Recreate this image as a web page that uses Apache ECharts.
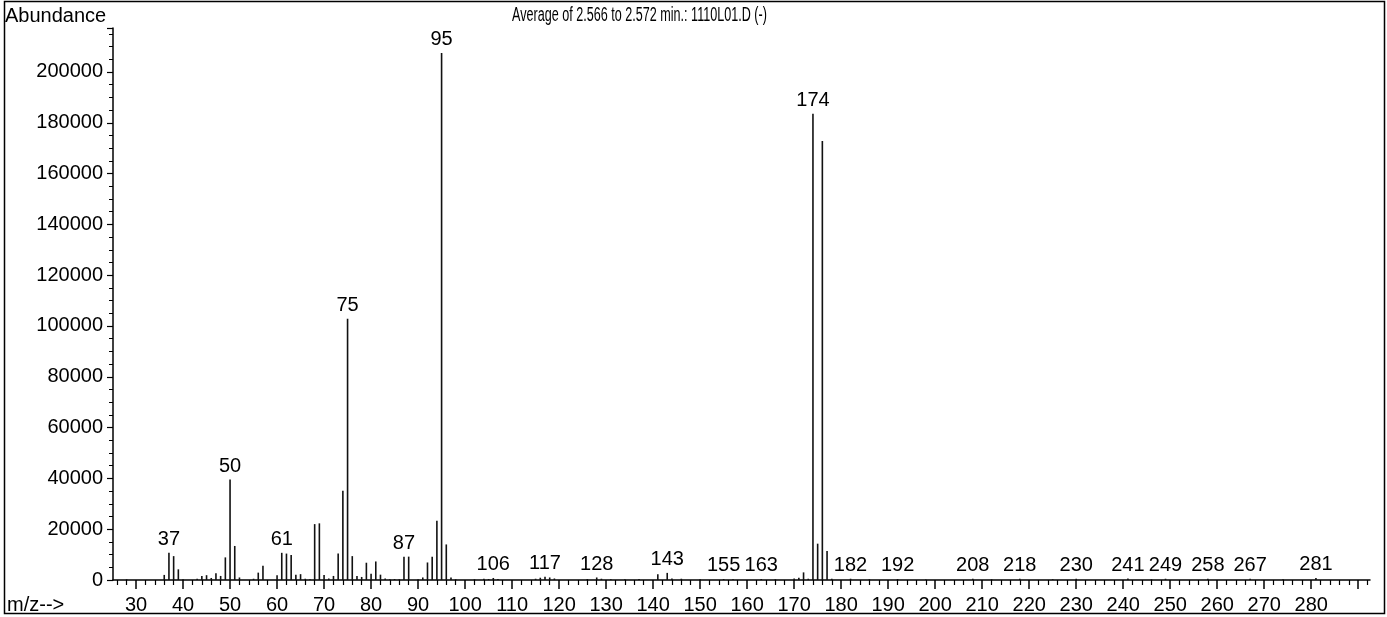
<!DOCTYPE html>
<html>
<head>
<meta charset="utf-8">
<script src="https://cdn.jsdelivr.net/npm/echarts@6/dist/echarts.min.js"></script>
<style>
  html, body { margin: 0; padding: 0; background: #fff; }
  #Chart { width: 1387px; height: 617px; }
</style>
</head>
<body>
<div id="Chart"></div>
<script>
var Chart = echarts.init(document.getElementById('Chart'));

// m/z values and their abundances
var mzValues = [28, 36, 37, 38, 39, 40, 43, 44, 45, 46, 47, 48, 49, 50, 51, 52, 55, 56, 57,
    60, 61, 62, 63, 64, 65, 66, 67, 68, 69, 70, 71, 72, 73, 74, 75, 76, 77, 78, 79, 80,
    81, 82, 83, 84, 85, 86, 87, 88, 90, 91, 92, 93, 94, 95, 96, 97, 98, 102, 104, 105,
    106, 107, 115, 116, 117, 118, 119, 126, 128, 129, 131, 134, 137, 141, 143, 144, 146,
    150, 155, 157, 163, 166, 170, 171, 172, 173, 174, 175, 176, 177, 178, 182, 186, 192,
    198, 208, 212, 218, 225, 230, 241, 246, 249, 258, 267, 274, 281];
var abundance = [300, 2000, 10700, 9400, 4200, 300, 500, 1600, 1900, 800, 2700, 1600, 8900, 39600, 13400, 1000, 500, 2900, 5600,
    1900, 10700, 10400, 9800, 2100, 2300, 500, 300, 22000, 22300, 2000, 600, 1600, 10400, 35100, 102800, 9400, 1600, 1200, 6800, 2500,
    7300, 2100, 600, 300, 400, 300, 9200, 9200, 300, 1000, 6900, 9200, 23300, 207500, 14000, 1000, 300, 300, 500, 400,
    800, 400, 500, 900, 1300, 1000, 600, 400, 1000, 500, 300, 300, 400, 2300, 2800, 600, 500,
    300, 400, 300, 400, 300, 600, 900, 3000, 500, 183500, 14300, 172800, 11400, 500, 500, 300, 400,
    200, 500, 300, 500, 300, 500, 600, 300, 500, 500, 500, 300, 800];

// peaks that carry an m/z label
var labeledPeaks = [37, 50, 61, 75, 87, 95, 106, 117, 128, 143, 155, 163, 174, 182, 192, 208, 218, 230, 241, 249, 258, 267, 281];

// axis ticks
var xMajorTicks = [30, 40, 50, 60, 70, 80, 90, 100, 110, 120, 130, 140, 150, 160, 170, 180, 190, 200, 210, 220, 230, 240, 250, 260, 270, 280, 290];
var xLabelValues = [30, 40, 50, 60, 70, 80, 90, 100, 110, 120, 130, 140, 150, 160, 170, 180, 190, 200, 210, 220, 230, 240, 250, 260, 270, 280];
var xMinorTicks = [26, 28, 32, 34, 36, 38, 42, 44, 46, 48, 52, 54, 56, 58, 62, 64, 66, 68, 72, 74, 76, 78, 82, 84, 86, 88,
    92, 94, 96, 98, 102, 104, 106, 108, 112, 114, 116, 118, 122, 124, 126, 128, 132, 134, 136, 138, 142, 144, 146, 148,
    152, 154, 156, 158, 162, 164, 166, 168, 172, 174, 176, 178, 182, 184, 186, 188, 192, 194, 196, 198, 202, 204, 206, 208,
    212, 214, 216, 218, 222, 224, 226, 228, 232, 234, 236, 238, 242, 244, 246, 248, 252, 254, 256, 258, 262, 264, 266, 268,
    272, 274, 276, 278, 282, 284, 286, 288, 292];

var font = 'Liberation Sans, Arial, Helvetica, sans-serif';

var barData = [];
for (var i = 0; i < mzValues.length; i++) {
    var item = {value: [mzValues[i], abundance[i]]};
    if (labeledPeaks.indexOf(mzValues[i]) !== -1) {
        item.label = {show: true};
    }
    barData.push(item);
}

var SpectrumOption = {
    backgroundColor: '#fff',
    animation: false,
    grid: {left: 113, right: 17, top: 28, bottom: 37},
    graphic: [
        {type: 'rect', shape: {x: 4.5, y: 1.5, width: 1380, height: 612},
            style: {fill: 'none', stroke: '#000', lineWidth: 1.5}, silent: true},
        {type: 'text', x: 5, y: 16, style: {text: 'Abundance', font: '20px ' + font, fill: '#000', verticalAlign: 'middle'}},
        {type: 'text', x: 512, y: 15, scaleX: 0.63,
            style: {text: 'Average of 2.566 to 2.572 min.: 1110L01.D (-)', font: '20px ' + font, fill: '#000', verticalAlign: 'middle'}},
        {type: 'text', x: 7, y: 605, style: {text: 'm/z-->', font: '20px ' + font, fill: '#000', verticalAlign: 'middle'}}
    ],
    xAxis: [
        {
            type: 'value',
            min: 25.1,
            max: 292.5,
            splitLine: {show: false},
            axisLine: {lineStyle: {color: '#000', width: 1.5}},
            axisTick: {customValues: xMajorTicks, length: 9, lineStyle: {color: '#000', width: 1.5}},
            axisLabel: {customValues: xLabelValues, margin: 15, color: '#000', fontSize: 20, fontFamily: font}
        },
        {
            type: 'value',
            min: 25.1,
            max: 292.5,
            position: 'bottom',
            splitLine: {show: false},
            axisLine: {show: false},
            axisTick: {customValues: xMinorTicks, length: 5, lineStyle: {color: '#000', width: 1.2}},
            axisLabel: {show: false}
        }
    ],
    yAxis: {
        type: 'value',
        min: 0,
        max: 217300,
        interval: 20000,
        splitLine: {show: false},
        axisLine: {show: true, lineStyle: {color: '#000', width: 1.5}},
        axisTick: {show: true, length: 6, lineStyle: {color: '#000', width: 1.2}},
        minorTick: {show: true, splitNumber: 4, length: 4, lineStyle: {color: '#000', width: 1}},
        axisLabel: {
            margin: 10, color: '#000', fontSize: 20, fontFamily: font,
            showMaxLabel: false,
            formatter: function (v) { return v % 20000 === 0 ? String(v) : ''; }
        }
    },
    series: [{
        type: 'bar',
        xAxisIndex: 0,
        barWidth: 1.6,
        itemStyle: {color: '#111'},
        label: {
            show: false,
            position: 'top',
            distance: 3,
            color: '#000',
            fontSize: 20,
            fontFamily: font,
            formatter: function (p) { return p.value[0]; }
        },
        labelLayout: {hideOverlap: false},
        data: barData
    }]
};

Chart.setOption(SpectrumOption);

window.addEventListener("resize", function () {
    Chart.resize();
});
</script>
</body>
</html>
